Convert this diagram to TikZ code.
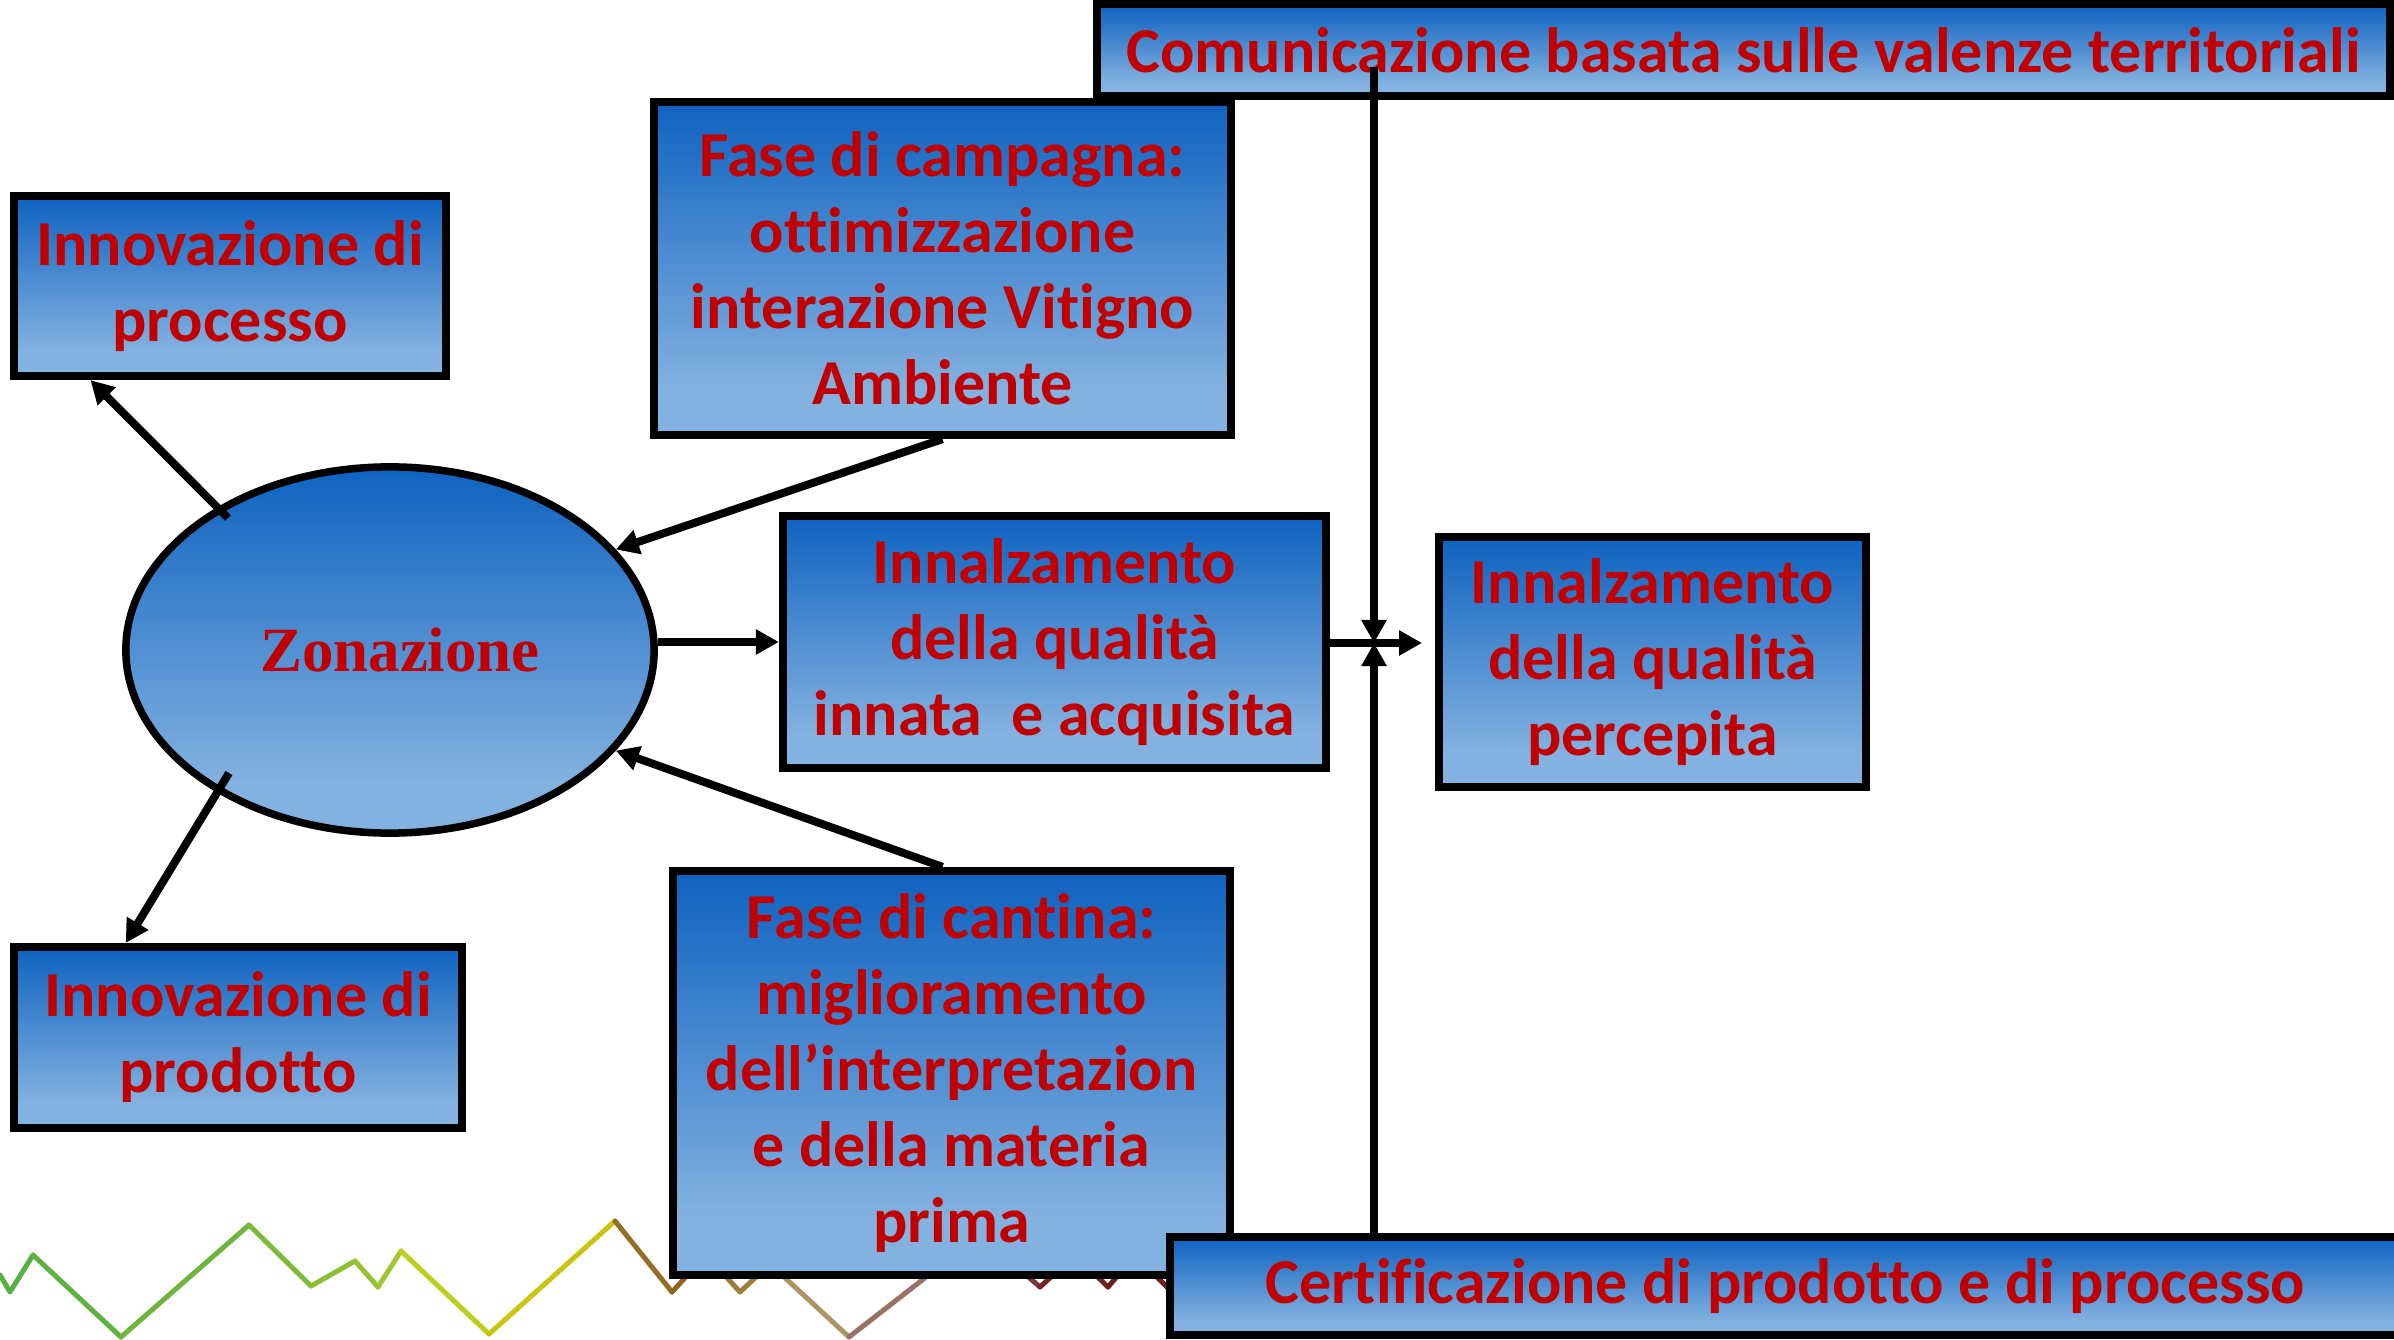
\documentclass[tikz,border=0pt]{standalone}
\usepackage{fontspec}
\setmainfont{Carlito}[Ligatures={TeX,NoCommon}]
\newfontfamily\zonfont{Liberation Serif}
\usetikzlibrary{arrows.meta,shapes.geometric,calc}
\definecolor{gtop}{RGB}{14,98,192}
\definecolor{gbot}{RGB}{131,177,224}
\definecolor{txtred}{RGB}{192,0,0}
\pgfdeclareverticalshading{boxgrad}{100bp}{color(0bp)=(gbot); color(32bp)=(gbot); color(75bp)=(gtop); color(100bp)=(gtop)}
\begin{document}
\begin{tikzpicture}[x=0.01cm,y=-0.01cm,
 box/.style={draw=black, line width=0.08cm, shading=boxgrad, rectangle, inner sep=0pt, align=center, text=txtred, font=\fontsize{18.2}{21.6}\selectfont\bfseries},
 conn/.style={line width=0.08cm, -{Triangle[length=0.23cm,width=0.24cm]}},
 zz/.style={line width=0.05cm, line cap=round, line join=round}
]
\useasboundingbox (0,0) rectangle (2394,1340);
\clip (0,0) rectangle (2394,1340);

% zigzag line at the bottom
\draw[zz, draw={rgb,255:red,88;green,176;blue,68}] (0,1275) -- (10,1292) -- (33,1255);
\draw[zz, draw={rgb,255:red,95;green,178;blue,65}] (33,1255) -- (121,1337);
\draw[zz, draw={rgb,255:red,110;green,180;blue,62}] (121,1337) -- (249,1225);
\draw[zz, draw={rgb,255:red,128;green,186;blue,58}] (249,1225) -- (311,1286);
\draw[zz, draw={rgb,255:red,140;green,190;blue,55}] (311,1286) -- (355,1261);
\draw[zz, draw={rgb,255:red,150;green,194;blue,52}] (355,1261) -- (378,1287);
\draw[zz, draw={rgb,255:red,160;green,198;blue,48}] (378,1287) -- (401,1251);
\draw[zz, draw={rgb,255:red,190;green,206;blue,30}] (401,1251) -- (489,1334);
\draw[zz, draw={rgb,255:red,202;green,196;blue,18}] (489,1334) -- (615,1221);
\draw[zz, draw={rgb,255:red,150;green,110;blue,35}] (615,1221) -- (672,1292);
\draw[zz, draw={rgb,255:red,140;green,100;blue,35}] (672,1292) -- (706,1255);
\draw[zz, draw={rgb,255:red,155;green,125;blue,60}] (706,1255) -- (740,1292) -- (770,1264);
\draw[zz, draw={rgb,255:red,172;green,148;blue,100}] (770,1264) -- (849,1337);
\draw[zz, draw={rgb,255:red,150;green,115;blue,100}] (849,1337) -- (980,1235);
\draw[zz, draw={rgb,255:red,125;green,55;blue,55}] (980,1235) -- (1040,1287);
\draw[zz, draw={rgb,255:red,114;green,38;blue,38}] (1040,1287) -- (1075,1255) -- (1108,1287);
\draw[zz, draw={rgb,255:red,110;green,30;blue,30}] (1108,1287) -- (1135,1255) -- (1200,1320);

% boxes
\node[box, minimum width=4.32cm, minimum height=1.80cm] (proc) at (230,286) {Innovazione di\\processo};
\node[box, minimum width=4.48cm, minimum height=1.81cm] (prod) at (238,1037.5) {Innovazione di\\prodotto};
\node[box, minimum width=5.77cm, minimum height=3.33cm] (camp) at (942.5,268.5) {Fase di campagna:\\ottimizzazione\\interazione Vitigno\\Ambiente};
\node[box, minimum width=5.43cm, minimum height=2.52cm] (inn) at (1054.5,642) {Innalzamento\\della qualità\\innata\ \ e acquisita};
\node[box, minimum width=4.27cm, minimum height=2.50cm] (perc) at (1652.5,662) {Innalzamento\\della qualità\\percepita};
\node[box, minimum width=5.57cm, minimum height=4.04cm] (cant) at (951.5,1073) {Fase di cantina:\\miglioramento\\dell’interpretazion\\e della materia\\prima};
\node[box, minimum width=12.93cm, minimum height=0.92cm] (comm) at (1743.5,50) {Comunicazione basata sulle valenze territoriali};
\node[box, minimum width=12.30cm, minimum height=0.98cm] (cert) at (1785,1286) {Certificazione di prodotto e di processo};

% ellipse
\node[ellipse, draw=black, line width=0.075cm, shading=boxgrad, minimum width=5.28cm, minimum height=3.66cm, inner sep=0pt,
      text=txtred, font=\zonfont\bfseries\fontsize{17.9}{20}\selectfont] (zon) at (390,650) {\hspace*{0.2cm}Zonazione};

% connectors
\coordinate (zs1) at (228,518);
\coordinate (zs2) at (229,773);
\coordinate (jn) at (1374,643);
\coordinate (vt) at (1374,67);
\coordinate (hz) at (1422,643);
\draw[conn] (zs1) -- ($(proc.south west)!0.183!(proc.south east)$);
\draw[conn] (zs2) -- ($(prod.north west)!0.254!(prod.north east)$);
\draw[conn] (camp.south) -- (zon.24);
\draw[conn] ($(cant.north)+(-9,0)$) -- (zon.-24);
\draw[conn] (zon.east |- inn.west) -- (inn.west);
\draw[conn] (vt) -- (jn);
\draw[conn] (cert.north -| jn) -- (jn);
\draw[conn] (inn.east |- jn) -- (hz);
\end{tikzpicture}
\end{document}
